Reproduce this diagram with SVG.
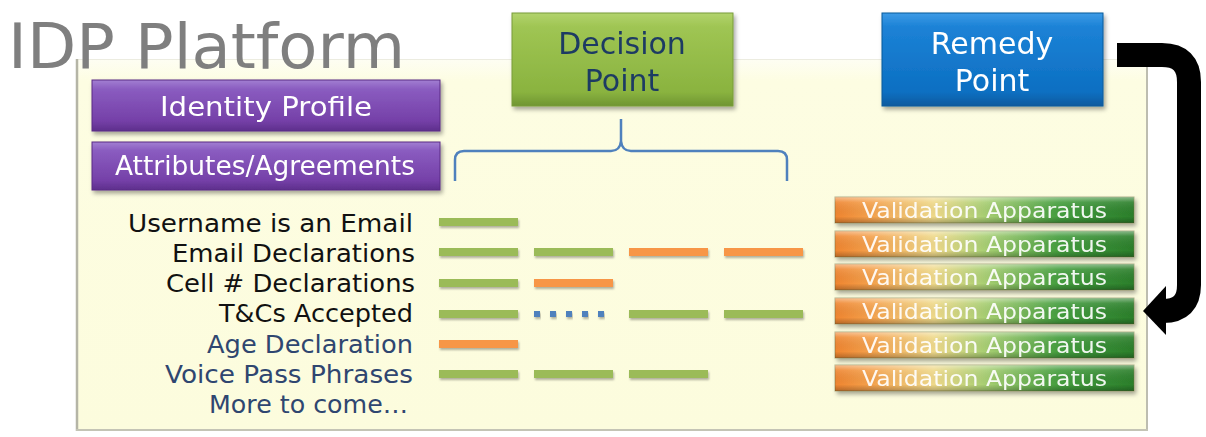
<svg xmlns="http://www.w3.org/2000/svg" width="1206" height="437" viewBox="0 0 1206 437">
<defs>
<linearGradient id="panelG" x1="0" y1="0" x2="0" y2="1">
<stop offset="0" stop-color="#fefef3"/><stop offset="0.06" stop-color="#fdfde2"/><stop offset="1" stop-color="#fcfcdd"/>
</linearGradient>
<linearGradient id="purpleG" x1="0" y1="0" x2="0" y2="1">
<stop offset="0" stop-color="#a27fd2"/><stop offset="0.18" stop-color="#8a5cc0"/><stop offset="0.8" stop-color="#7540a8"/><stop offset="1" stop-color="#5e2f8c"/>
</linearGradient>
<linearGradient id="greenG" x1="0" y1="0" x2="0" y2="1">
<stop offset="0" stop-color="#b2d36c"/><stop offset="0.15" stop-color="#9fc553"/><stop offset="0.85" stop-color="#8ab33f"/><stop offset="1" stop-color="#6f9532"/>
</linearGradient>
<linearGradient id="blueG" x1="0" y1="0" x2="0" y2="1">
<stop offset="0" stop-color="#3d9be6"/><stop offset="0.15" stop-color="#1c82d6"/><stop offset="0.85" stop-color="#0c6fc2"/><stop offset="1" stop-color="#0a5a9e"/>
</linearGradient>
<linearGradient id="valG" x1="0" y1="0" x2="1" y2="0">
<stop offset="0" stop-color="#ef8530"/><stop offset="0.12" stop-color="#f4a14c"/><stop offset="0.33" stop-color="#efd98a"/><stop offset="0.5" stop-color="#a9cf73"/><stop offset="0.75" stop-color="#449e3e"/><stop offset="1" stop-color="#2b7f2b"/>
</linearGradient>
<linearGradient id="gloss" x1="0" y1="0" x2="0" y2="1">
<stop offset="0" stop-color="#ffffff" stop-opacity="0.45"/><stop offset="0.2" stop-color="#ffffff" stop-opacity="0.1"/><stop offset="0.75" stop-color="#000000" stop-opacity="0"/><stop offset="1" stop-color="#000000" stop-opacity="0.25"/>
</linearGradient>
<filter id="sh" x="-10%" y="-20%" width="125%" height="150%">
<feDropShadow dx="2" dy="3" stdDeviation="2" flood-color="#000" flood-opacity="0.35"/>
</filter>
<filter id="shs" x="-10%" y="-50%" width="125%" height="250%">
<feDropShadow dx="1" dy="2" stdDeviation="1.2" flood-color="#000" flood-opacity="0.3"/>
</filter>
<style>
.ttl{font-family:"DejaVu Sans",Verdana,sans-serif;font-size:63px;fill:#7f7f7f}
.wt{font-family:"DejaVu Sans",Verdana,sans-serif;fill:#ffffff}
.dp{font-family:"DejaVu Sans",Verdana,sans-serif;font-size:30px;fill:#1f3b63;text-anchor:middle}
.rp{font-family:"DejaVu Sans",Verdana,sans-serif;font-size:30px;fill:#ffffff;text-anchor:middle}
.lbl{font-family:"DejaVu Sans",Verdana,sans-serif;font-size:24px;fill:#111111}
.lbl2{font-family:"DejaVu Sans",Verdana,sans-serif;font-size:24px;fill:#2f4670}
.va{font-family:"DejaVu Sans",Verdana,sans-serif;font-size:21px;fill:#ffffff;fill-opacity:0.92}
.g{fill:#9bbb59}
.o{fill:#f79646}
.d{fill:#4f81bd}
</style>
</defs>

<g id="panel">
<rect x="76" y="59" width="1072" height="371" fill="url(#panelG)"/>
<line x1="76" y1="59.5" x2="1148" y2="59.5" stroke="#ecece0" stroke-width="1"/>
<line x1="77" y1="59" x2="77" y2="431" stroke="#b5b5a6" stroke-width="2.5"/>
<line x1="1147" y1="59" x2="1147" y2="431" stroke="#bdbdb0" stroke-width="2"/>
<line x1="76" y1="430" x2="1148" y2="430" stroke="#c4c4b5" stroke-width="2"/>
</g>

<g id="title">
<text class="ttl" x="8" y="68" textLength="397" lengthAdjust="spacingAndGlyphs">IDP Platform</text>
</g>

<g id="identity-profile" filter="url(#sh)">
<rect x="92" y="80" width="348" height="51" fill="url(#purpleG)" stroke="#5a2a86" stroke-width="1"/>
<text class="wt" x="160" y="116" font-size="26" textLength="212" lengthAdjust="spacingAndGlyphs">Identity Profile</text>
</g>

<g id="attributes-agreements" filter="url(#sh)">
<rect x="92" y="142" width="348" height="48" fill="url(#purpleG)" stroke="#5a2a86" stroke-width="1"/>
<text class="wt" x="115" y="175" font-size="26" textLength="300" lengthAdjust="spacingAndGlyphs">Attributes/Agreements</text>
</g>

<g id="decision-point" filter="url(#sh)">
<rect x="512" y="13" width="221" height="93" fill="url(#greenG)" stroke="#789c3a" stroke-width="1"/>
<text class="dp" x="622" y="54">Decision</text>
<text class="dp" x="622" y="91">Point</text>
</g>

<g id="remedy-point" filter="url(#sh)">
<rect x="882" y="13" width="221" height="93" fill="url(#blueG)" stroke="#0b5a9c" stroke-width="1"/>
<text class="rp" x="992" y="54">Remedy</text>
<text class="rp" x="992" y="91">Point</text>
</g>

<g id="connectors">
<path d="M455,181 V160 Q455,151 464,151 H611 Q620,151 621,141 V119 M621,141 Q622,151 631,151 H778 Q787,151 787,160 V181" fill="none" stroke="#4f81bd" stroke-width="2.5"/>
<path d="M1117,55 H1162 Q1189,55 1189,82 V285 Q1189,311 1163,311 H1160" fill="none" stroke="#000000" stroke-width="24"/>
<polygon points="1166,286 1143,311 1166,335" fill="#000000"/>
</g>

<g id="row-username">
<text class="lbl" x="128" y="231.5" textLength="285" lengthAdjust="spacingAndGlyphs">Username is an Email</text>
<rect class="g" x="439" y="218" width="79" height="8" filter="url(#shs)"/>
</g>
<g id="row-email">
<text class="lbl" x="172" y="261.5" textLength="243" lengthAdjust="spacingAndGlyphs">Email Declarations</text>
<rect class="g" x="439" y="248" width="79" height="8" filter="url(#shs)"/>
<rect class="g" x="534" y="248" width="79" height="8" filter="url(#shs)"/>
<rect class="o" x="629" y="248" width="79" height="8" filter="url(#shs)"/>
<rect class="o" x="724" y="248" width="79" height="8" filter="url(#shs)"/>
</g>
<g id="row-cell">
<text class="lbl" x="166" y="291.5" textLength="249" lengthAdjust="spacingAndGlyphs">Cell # Declarations</text>
<rect class="g" x="439" y="279" width="79" height="8" filter="url(#shs)"/>
<rect class="o" x="534" y="279" width="79" height="8" filter="url(#shs)"/>
</g>
<g id="row-tcs">
<text class="lbl" x="219" y="321.5" textLength="194" lengthAdjust="spacingAndGlyphs">T&amp;Cs Accepted</text>
<rect class="g" x="439" y="310" width="79" height="8" filter="url(#shs)"/>
<rect class="d" x="534" y="311" width="6" height="6" filter="url(#shs)"/>
<rect class="d" x="550" y="311" width="6" height="6" filter="url(#shs)"/>
<rect class="d" x="566" y="311" width="6" height="6" filter="url(#shs)"/>
<rect class="d" x="582" y="311" width="6" height="6" filter="url(#shs)"/>
<rect class="d" x="598" y="311" width="6" height="6" filter="url(#shs)"/>
<rect class="g" x="629" y="310" width="79" height="8" filter="url(#shs)"/>
<rect class="g" x="724" y="310" width="79" height="8" filter="url(#shs)"/>
</g>
<g id="row-age">
<text class="lbl2" x="207" y="352.5" textLength="206" lengthAdjust="spacingAndGlyphs">Age Declaration</text>
<rect class="o" x="439" y="340" width="79" height="8" filter="url(#shs)"/>
</g>
<g id="row-voice">
<text class="lbl2" x="165" y="382.5" textLength="248" lengthAdjust="spacingAndGlyphs">Voice Pass Phrases</text>
<rect class="g" x="439" y="370" width="79" height="8" filter="url(#shs)"/>
<rect class="g" x="534" y="370" width="79" height="8" filter="url(#shs)"/>
<rect class="g" x="629" y="370" width="79" height="8" filter="url(#shs)"/>
</g>
<g id="row-more">
<text class="lbl2" x="209" y="413" textLength="199" lengthAdjust="spacingAndGlyphs">More to come…</text>
</g>

<g id="validation-1" filter="url(#sh)">
<rect x="835" y="197" width="299" height="26" fill="url(#valG)" stroke="#6b6b3a" stroke-opacity="0.5"/>
<rect x="835" y="197" width="299" height="26" fill="url(#gloss)"/>
<text class="va" x="862" y="218" textLength="245" lengthAdjust="spacingAndGlyphs">Validation Apparatus</text>
</g>
<g id="validation-2" filter="url(#sh)">
<rect x="835" y="231" width="299" height="26" fill="url(#valG)" stroke="#6b6b3a" stroke-opacity="0.5"/>
<rect x="835" y="231" width="299" height="26" fill="url(#gloss)"/>
<text class="va" x="862" y="252" textLength="245" lengthAdjust="spacingAndGlyphs">Validation Apparatus</text>
</g>
<g id="validation-3" filter="url(#sh)">
<rect x="835" y="264" width="299" height="26" fill="url(#valG)" stroke="#6b6b3a" stroke-opacity="0.5"/>
<rect x="835" y="264" width="299" height="26" fill="url(#gloss)"/>
<text class="va" x="862" y="285" textLength="245" lengthAdjust="spacingAndGlyphs">Validation Apparatus</text>
</g>
<g id="validation-4" filter="url(#sh)">
<rect x="835" y="298" width="299" height="26" fill="url(#valG)" stroke="#6b6b3a" stroke-opacity="0.5"/>
<rect x="835" y="298" width="299" height="26" fill="url(#gloss)"/>
<text class="va" x="862" y="319" textLength="245" lengthAdjust="spacingAndGlyphs">Validation Apparatus</text>
</g>
<g id="validation-5" filter="url(#sh)">
<rect x="835" y="332" width="299" height="26" fill="url(#valG)" stroke="#6b6b3a" stroke-opacity="0.5"/>
<rect x="835" y="332" width="299" height="26" fill="url(#gloss)"/>
<text class="va" x="862" y="353" textLength="245" lengthAdjust="spacingAndGlyphs">Validation Apparatus</text>
</g>
<g id="validation-6" filter="url(#sh)">
<rect x="835" y="365" width="299" height="26" fill="url(#valG)" stroke="#6b6b3a" stroke-opacity="0.5"/>
<rect x="835" y="365" width="299" height="26" fill="url(#gloss)"/>
<text class="va" x="862" y="386" textLength="245" lengthAdjust="spacingAndGlyphs">Validation Apparatus</text>
</g>
</svg>
